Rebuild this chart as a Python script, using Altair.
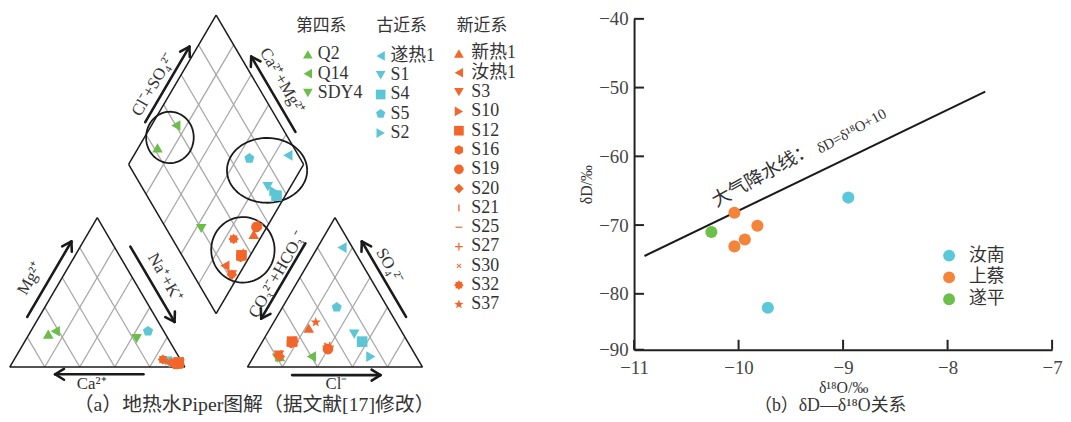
import math
import numpy as np
import pandas as pd
import altair as alt

SERIF = "'Liberation Serif', 'Times New Roman', 'Noto Sans CJK SC', serif"
TXT = "#333333"

# ================= (a) Piper diagram: milliequivalent percentages =================
samples = ["Q2", "Q14", "SDY4",
           "遂热1", "S1", "S4", "S5", "S2",
           "新热1", "汝热1", "S3", "S10", "S12", "S16", "S19", "S20",
           "S21", "S25", "S27", "S30", "S32", "S37"]
groups = ["第四系"] * 3 + ["古近系"] * 5 + ["新近系"] * 14
ca_pct   = [67, 62, 18,  8,  9,  2,  9,  5,  3,  8,  2,  3,  2,  3,  4,  2,  3,  3,  3,  3, 10,  3]
mg_pct   = [22, 24, 19,  4,  4,  3, 24,  3,  2,  3,  2,  2,  3,  2,  2,  2,  2,  2,  3,  2,  5,  2]
nak_pct  = [11, 14, 63, 88, 87, 95, 67, 92, 95, 89, 96, 95, 95, 95, 94, 96, 95, 95, 94, 95, 85, 95]
hco3_pct = [78, 60, 80,  6, 28, 26, 29, 26, 52, 79, 78, 47, 66, 67, 48, 78, 64, 48, 46, 66, 65, 46]
so4_pct  = [ 7,  7,  6, 80, 22, 17, 40,  7, 26,  8,  8, 13, 17, 16, 12,  7, 18, 14, 14, 18, 17, 30]
cl_pct   = [15, 33, 14, 14, 50, 57, 31, 67, 22, 13, 14, 40, 17, 17, 40, 15, 18, 38, 40, 16, 18, 24]

group_names = ["第四系", "古近系", "新近系"]
group_colors = ["#6BBE47", "#5CC5D6", "#F2662B"]

# ================= (b) isotope data =================
d18o = [-8.95, -9.72, -10.04, -9.82, -9.94, -10.04, -10.26]
dD = [-66.0, -82.5, -68.2, -70.1, -72.1, -73.1, -71.0]
region = ["汝南", "汝南", "上蔡", "上蔡", "上蔡", "上蔡", "遂平"]
region_names = ["汝南", "上蔡", "遂平"]
region_colors = ["#5BC8D9", "#F4843A", "#6DBF4B"]
mwl_x = [-10.9, -7.64]
mwl_y = [-74.5, -50.6]
x_ticks = [-11, -10, -9, -8, -7]
y_ticks = [-90, -80, -70, -60, -50, -40]

# ---------------- marker shapes (styles) ----------------
def path(pts):
    return "M" + "L".join(f"{x:.3f},{y:.3f}" for x, y in pts) + "Z"

def regular(n, r=1.0, rot=-90.0):
    return [(r * math.cos(math.radians(rot + 360 * k / n)),
             r * math.sin(math.radians(rot + 360 * k / n))) for k in range(n)]

def starpts(n, ro, ri, rot=-90.0):
    out = []
    for k in range(2 * n):
        r = ro if k % 2 == 0 else ri
        a = math.radians(rot + 180 * k / n)
        out.append((r * math.cos(a), r * math.sin(a)))
    return out

def rot(pts, deg):
    c, s = math.cos(math.radians(deg)), math.sin(math.radians(deg))
    return [(x * c - y * s, x * s + y * c) for x, y in pts]

plus_pts = [(-0.13, -0.8), (0.13, -0.8), (0.13, -0.13), (0.8, -0.13), (0.8, 0.13), (0.13, 0.13),
            (0.13, 0.8), (-0.13, 0.8), (-0.13, 0.13), (-0.8, 0.13), (-0.8, -0.13), (-0.13, -0.13)]
small_plus = [(x * 0.75, y * 0.75) for x, y in plus_pts]
shape_of = {
    "Q2": "triangle-up", "Q14": "triangle-left", "SDY4": "triangle-down",
    "遂热1": "triangle-left", "S1": "triangle-down", "S4": "square",
    "S5": path(regular(5)), "S2": "triangle-right",
    "新热1": "triangle-up", "汝热1": "triangle-left", "S3": "triangle-down",
    "S10": "triangle-right", "S12": "square", "S16": path(regular(6)),
    "S19": "circle", "S20": "diamond",
    "S21": path([(-0.14, -0.7), (0.14, -0.7), (0.14, 0.7), (-0.14, 0.7)]),
    "S25": path([(-0.7, -0.12), (0.7, -0.12), (0.7, 0.12), (-0.7, 0.12)]),
    "S27": path(plus_pts),
    "S30": path(rot(small_plus, 45)),
    "S32": path(starpts(8, 1.0, 0.72)),
    "S37": path(starpts(5, 1.0, 0.42)),
}
shape_range = [shape_of[s] for s in samples]

# ---------------- Piper geometry ----------------
G = 0.358
S3 = math.sqrt(3) / 2
B = (1 + G / 2, G * S3)
UR = (0.5, S3)
UL = (-0.5, S3)

pts = []
for i, s in enumerate(samples):
    n = nak_pct[i] / 100
    m = mg_pct[i] / 100
    so = so4_pct[i] / 100
    c = cl_pct[i] / 100
    b = (cl_pct[i] + so4_pct[i]) / 100
    pts.append(dict(sample=s, group=groups[i], x=n + m / 2, y=m * S3))
    pts.append(dict(sample=s, group=groups[i], x=1 + G + c + so / 2, y=so * S3))
    pts.append(dict(sample=s, group=groups[i],
                    x=B[0] + b * UR[0] + (1 - n) * UL[0], y=B[1] + b * UR[1] + (1 - n) * UL[1]))
pts_df = pd.DataFrame(pts)

outline, grid = [], []
for ox in (0.0, 1 + G):
    A, Bv, C = (ox, 0.0), (ox + 1, 0.0), (ox + 0.5, S3)
    outline += [(A, Bv), (Bv, C), (C, A)]
    for f in (0.2, 0.4, 0.6, 0.8):
        grid.append(((ox + f, 0.0), (ox + f + (1 - f) / 2, (1 - f) * S3)))
        grid.append(((ox + f, 0.0), (ox + f / 2, f * S3)))
R = (B[0] + UR[0], B[1] + UR[1])
L = (B[0] + UL[0], B[1] + UL[1])
T = (B[0], B[1] + 2 * S3)
outline += [(B, R), (R, T), (T, L), (L, B)]
for f in (0.2, 0.4, 0.6, 0.8):
    p = (B[0] + f * UR[0], B[1] + f * UR[1])
    grid.append((p, (p[0] + UL[0], p[1] + UL[1])))
    q = (B[0] + f * UL[0], B[1] + f * UL[1])
    grid.append((q, (q[0] + UR[0], q[1] + UR[1])))

def seg_df(segs):
    return pd.DataFrame([dict(x=a[0], y=a[1], x2=b[0], y2=b[1]) for a, b in segs])

# arrows: tail, direction
arrow_specs = [((0.100, 0.291), (0.5, S3)), ((0.689, 0.699), (0.5, -S3)), ((0.764, -0.042), (-1.0, 0.0)),
               ((1.689, 0.718), (-0.5, -S3)), ((2.264, 0.291), (-0.5, S3)), ((1.613, -0.047), (1.0, 0.0)),
               ((0.774, 1.421), (0.5, S3)), ((1.632, 1.364), (-0.5, S3))]
ALEN, HLEN, HANG = 0.505, 0.06, 32
shafts, heads = [], []
for (tx, ty), (dx, dy) in arrow_specs:
    hx, hy = tx + ALEN * dx, ty + ALEN * dy
    shafts.append(((tx, ty), (hx, hy)))
    for sgn in (1, -1):
        (rx, ry), = rot([(dx, dy)], sgn * HANG)
        heads.append(((hx, hy), (hx - HLEN * rx, hy - HLEN * ry)))

ellipses = [(0.915, 1.332, 0.136, 0.149), (1.47, 1.141, 0.229, 0.188), (1.332, 0.68, 0.181, 0.19)]
ell_rows = []
for e, (cx, cy, rx, ry) in enumerate(ellipses):
    for k, t in enumerate(np.linspace(0, 2 * np.pi, 90)):
        ell_rows.append(dict(eid=e, i=k, x=cx + rx * np.cos(t), y=cy + ry * np.sin(t)))
ell_df = pd.DataFrame(ell_rows)

axis_labels = pd.DataFrame([
    dict(t="Mg²⁺", x=0.117, y=0.513, a=300),
    dict(t="Na⁺+K⁺", x=0.887, y=0.519, a=60),
    dict(t="Ca²⁺", x=0.468, y=-0.098, a=0),
    dict(t="CO₃²⁻+HCO₃⁻", x=1.528, y=0.537, a=300),
    dict(t="SO₄²⁻", x=2.170, y=0.585, a=60),
    dict(t="Cl⁻", x=1.866, y=-0.098, a=0),
    dict(t="Cl⁻+SO₄²⁻", x=0.821, y=1.639, a=300),
    dict(t="Ca²⁺+Mg²⁺", x=1.556, y=1.658, a=60),
])

# legend layout
head_x = [1.779, 2.239, 2.698]
mark_x = [1.703, 2.119, 2.566]
lab_x = [1.760, 2.175, 2.637]
row0 = [1.814, 1.805, 1.819]
STEP = 0.112
heads_df = pd.DataFrame(dict(t=group_names, x=head_x, y=[1.981] * 3))
leg_rows = []
for gi, gname in enumerate(group_names):
    members = [s for s, g in zip(samples, groups) if g == gname]
    for r, s in enumerate(members):
        leg_rows.append(dict(sample=s, group=gname, x=mark_x[gi], y=row0[gi] - r * STEP,
                             lx=lab_x[gi]))
leg_df = pd.DataFrame(leg_rows)
leg_lab = leg_df.drop(columns=["x"]).rename(columns={"lx": "x"})

W1, H1 = 530, 390
KX, KY = 176.7, 174.0
X0, YT = -0.01, 2.02
xs1 = alt.Scale(domain=[X0, X0 + W1 / KX], nice=False, zero=False)
ys1 = alt.Scale(domain=[YT - H1 / KY, YT], nice=False, zero=False)
X1 = alt.X("x:Q", scale=xs1, axis=None)
Y1 = alt.Y("y:Q", scale=ys1, axis=None)
SH = alt.Shape("sample:N", scale=alt.Scale(domain=samples, range=shape_range), legend=None)
CO = alt.Color("group:N", scale=alt.Scale(domain=group_names, range=group_colors), legend=None)

grid_l = alt.Chart(seg_df(grid)).mark_rule(color="#A8A8A8", strokeWidth=1.3).encode(
    x=X1, y=Y1, x2="x2:Q", y2="y2:Q")
out_l = alt.Chart(seg_df(outline)).mark_rule(color="#1A1A1A", strokeWidth=1.5).encode(
    x=X1, y=Y1, x2="x2:Q", y2="y2:Q")
ell_l = alt.Chart(ell_df).mark_line(color="#1A1A1A", strokeWidth=1.8).encode(
    x=X1, y=Y1, detail="eid:N", order="i:Q")
arr_l = alt.Chart(seg_df(shafts + heads)).mark_rule(color="#1A1A1A", strokeWidth=2.6, strokeCap="round").encode(
    x=X1, y=Y1, x2="x2:Q", y2="y2:Q")
pt_l = alt.Chart(pts_df).mark_point(filled=True, opacity=1, size=115, strokeWidth=0).encode(
    x=X1, y=Y1, shape=SH, color=CO)
lab_l = alt.Chart(axis_labels).mark_text(font=SERIF, fontSize=17, color=TXT).encode(
    x=X1, y=Y1, text="t:N", angle=alt.Angle("a:Q", scale=None))
head_l = alt.Chart(heads_df).mark_text(font=SERIF, fontSize=17, color=TXT).encode(
    x=X1, y=Y1, text="t:N")
legp_l = alt.Chart(leg_df).mark_point(filled=True, opacity=1, size=95, strokeWidth=0).encode(
    x=X1, y=Y1, shape=SH, color=CO)
legt_l = alt.Chart(leg_lab).mark_text(font=SERIF, fontSize=18, color=TXT, align="left", baseline="middle").encode(
    x=X1, y=Y1, text="sample:N")
cap_a = alt.Chart(pd.DataFrame(dict(t=["（a）地热水Piper图解（据文献[17]修改）"], x=[1.396], y=[-0.222]))).mark_text(
    font=SERIF, fontSize=20, color=TXT).encode(x=X1, y=Y1, text="t:N")

chart1 = alt.layer(grid_l, out_l, ell_l, arr_l, pt_l, lab_l, head_l, legp_l, legt_l, cap_a).properties(
    width=W1, height=H1)

# ================= (b) chart =================
W2, H2 = 422, 334
frac80 = 0.1689
xs2 = alt.Scale(domain=[-11, -7], nice=False, zero=False)
ys2 = alt.Scale(domain=[-90, -80, -40], range=[H2, H2 * (1 - frac80), 0], nice=False, zero=False)
X2 = alt.X("x:Q", scale=xs2, axis=alt.Axis(values=x_ticks, title="δ¹⁸O/‰", ticks=False, labelPadding=9,
                                           titlePadding=2, labelFlush=False))
Y2 = alt.Y("y:Q", scale=ys2, axis=alt.Axis(values=y_ticks, title="δD/‰", ticks=False, labelPadding=6,
                                           titlePadding=4))

scat_df = pd.DataFrame(dict(x=d18o, y=dD, region=region))
mwl_df = pd.DataFrame(dict(x=mwl_x, y=mwl_y))

mwl_l = alt.Chart(mwl_df).mark_line(color="#1A1A1A", strokeWidth=2).encode(x=X2, y=Y2)
sc_l = alt.Chart(scat_df).mark_circle(size=150, opacity=1).encode(
    x=X2, y=Y2,
    color=alt.Color("region:N", scale=alt.Scale(domain=region_names, range=region_colors),
                    legend=alt.Legend(title=None, orient="none", legendX=309, legendY=230,
                                      symbolType="circle", symbolSize=144, symbolStrokeWidth=0,
                                      symbolOpacity=1, labelFont=SERIF, labelFontSize=18,
                                      labelColor=TXT, labelOffset=11, rowPadding=4, padding=0)))
ytick_l = alt.Chart(pd.DataFrame(dict(y=y_ticks))).mark_rule(color="#222222", strokeWidth=2).encode(
    y=Y2, x=alt.value(0), x2=alt.value(10))
xtick_l = alt.Chart(pd.DataFrame(dict(x=x_ticks))).mark_rule(color="#222222", strokeWidth=2).encode(
    x=X2, y=alt.value(H2), y2=alt.value(H2 - 10))
ann1 = alt.Chart(pd.DataFrame(dict(x=[-9.77], y=[-62.7], t=["大气降水线："]))).mark_text(
    font=SERIF, fontSize=19, color=TXT, angle=331).encode(x=X2, y=Y2, text="t:N")
ann2 = alt.Chart(pd.DataFrame(dict(x=[-8.92], y=[-56.3], t=["δD=δ¹⁸O+10"]))).mark_text(
    font=SERIF, fontSize=15, color=TXT, angle=331).encode(x=X2, y=Y2, text="t:N")
cap_b = alt.Chart(pd.DataFrame(dict(t=["（b）δD—δ¹⁸O关系"]))).mark_text(
    font=SERIF, fontSize=18, color=TXT).encode(x=alt.value(198), y=alt.value(H2 + 57), text="t:N")

chart2 = alt.layer(mwl_l, sc_l, ytick_l, xtick_l, ann1, ann2, cap_b).properties(width=W2, height=H2)

chart = alt.hconcat(chart1, chart2, spacing=102, bounds="flush").resolve_scale(
    color="independent", shape="independent"
).properties(padding=0).configure_view(stroke=None).configure_axis(
    domainColor="#222222", domainWidth=2, grid=False,
    labelFont=SERIF, labelFontSize=19, labelColor="#444444",
    titleFont=SERIF, titleFontSize=16, titleFontWeight="normal", titleColor=TXT)

chart.save("out.html", embed_options={"renderer": "svg", "actions": False})
